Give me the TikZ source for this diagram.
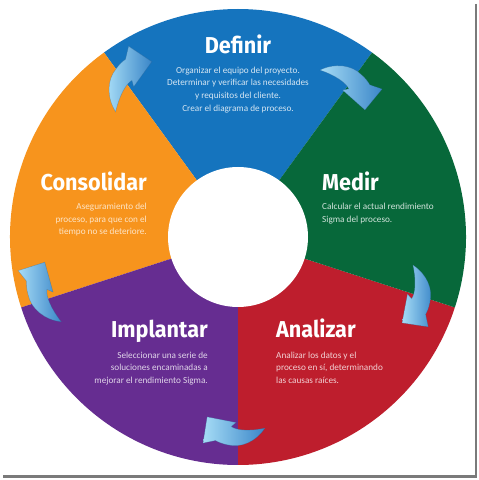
\documentclass[tikz,border=0pt]{standalone}
\usepackage{fontspec}
\newfontfamily\titlefont[FakeStretch=0.94]{Fira Sans}
\newfontfamily\descfont{Carlito}
\definecolor{cblue}{HTML}{1574BE}
\definecolor{cgreen}{HTML}{07683A}
\definecolor{cred}{HTML}{BE1E2D}
\definecolor{cpurple}{HTML}{662D91}
\definecolor{corange}{HTML}{F7941D}
\definecolor{arrlight}{HTML}{A6DCF6}
\definecolor{arrdark}{HTML}{3A86C8}
\definecolor{framegray}{HTML}{7A7A7A}
\tikzset{
  ttl/.style={font=\titlefont\bfseries\fontsize{23}{23}\selectfont, text=white, inner sep=0pt},
  desc/.style={font=\descfont\fontsize{9.2}{12.7}\selectfont, inner sep=0pt},
  curvarrow/.pic={
    \shade[left color=arrlight, right color=arrdark, draw=arrdark!70!black, draw opacity=0.35, line width=0.5pt]
      (-30,0) .. controls (-24,15) and (-10,25) .. (4,24)
      .. controls (10,24) and (14,23) .. (17,22)
      -- (29,27) -- (30,0) -- (0,0) -- (4,5)
      .. controls (-2,8) and (-16,6) .. (-30,0) -- cycle;
  }
}
\begin{document}
\begin{tikzpicture}[x=1pt,y=1pt]
\useasboundingbox (0,0) rectangle (479,480);
\fill[white] (0,0) rectangle (479,480);
\coordinate (c) at (238,243);
% segments
\fill[cblue]   (c) -- ++(54:228)  arc[start angle=54,  end angle=126, radius=228] -- cycle;
\fill[corange] (c) -- ++(126:228) arc[start angle=126, end angle=198, radius=228] -- cycle;
\fill[cpurple] (c) -- ++(198:228) arc[start angle=198, end angle=270, radius=228] -- cycle;
\fill[cred]    (c) -- ++(270:228) arc[start angle=270, end angle=342, radius=228] -- cycle;
\fill[cgreen]  (c) -- ++(-18:228) arc[start angle=-18, end angle=54,  radius=228] -- cycle;
\fill[white] (c) circle[radius=70];
% frame shadow
\draw[framegray, line width=2.5pt] (476,476) -- (476,3.5) -- (3,3.5);
% arrows
\pic[shift={(133.7,393.3)}, rotate=54.2, scale=1.03] {curvarrow};
\pic[shift={(342.5,390)}, rotate=-41.6, scale=1.0] {curvarrow};
\pic[shift={(407.5,186)}, rotate=-100.7, scale=0.98] {curvarrow};
\pic[shift={(236,57.5)}, rotate=169, scale=0.98] {curvarrow};
\pic[shift={(53,188)}, rotate=105.5, scale=1.03] {curvarrow};
% titles
\node[ttl, anchor=base] (tdef) at (238,426.7) {Definir};
\node[ttl, anchor=base west] (tmed) at (322,289) {Medir};
\node[ttl, anchor=base east] (tcon) at (147,289) {Consolidar};
\node[ttl, anchor=base east] (timp) at (208,142) {Implantar};
\node[ttl, anchor=base west] (tana) at (276,142) {Analizar};
% descriptions
\node[desc, text=white!82!cblue, align=center, anchor=north] (ddef) at (238,413.5)
  {Organizar el equipo del proyecto.\\Determinar y verificar las necesidades\\y requisitos del cliente.\\Crear el diagrama de proceso.};
\node[desc, text=white!82!cgreen, align=left, anchor=north west] (dmed) at (322,277)
  {Calcular el actual rendimiento\\Sigma del proceso.};
\node[desc, text=white!75!corange, align=right, anchor=north east] (dcon) at (147,277)
  {Aseguramiento del\\proceso, para que con el\\tiempo no se deteriore.};
\node[desc, text=white!80!cpurple, align=right, anchor=north east] (dimp) at (208,128.5)
  {Seleccionar una serie de\\soluciones encaminadas a\\mejorar el rendimiento Sigma.};
\node[desc, text=white!80!cred, align=left, anchor=north west] (dana) at (276,128.5)
  {Analizar los datos y el\\proceso en sí, determinando\\las causas raíces.};
\end{tikzpicture}
\end{document}
